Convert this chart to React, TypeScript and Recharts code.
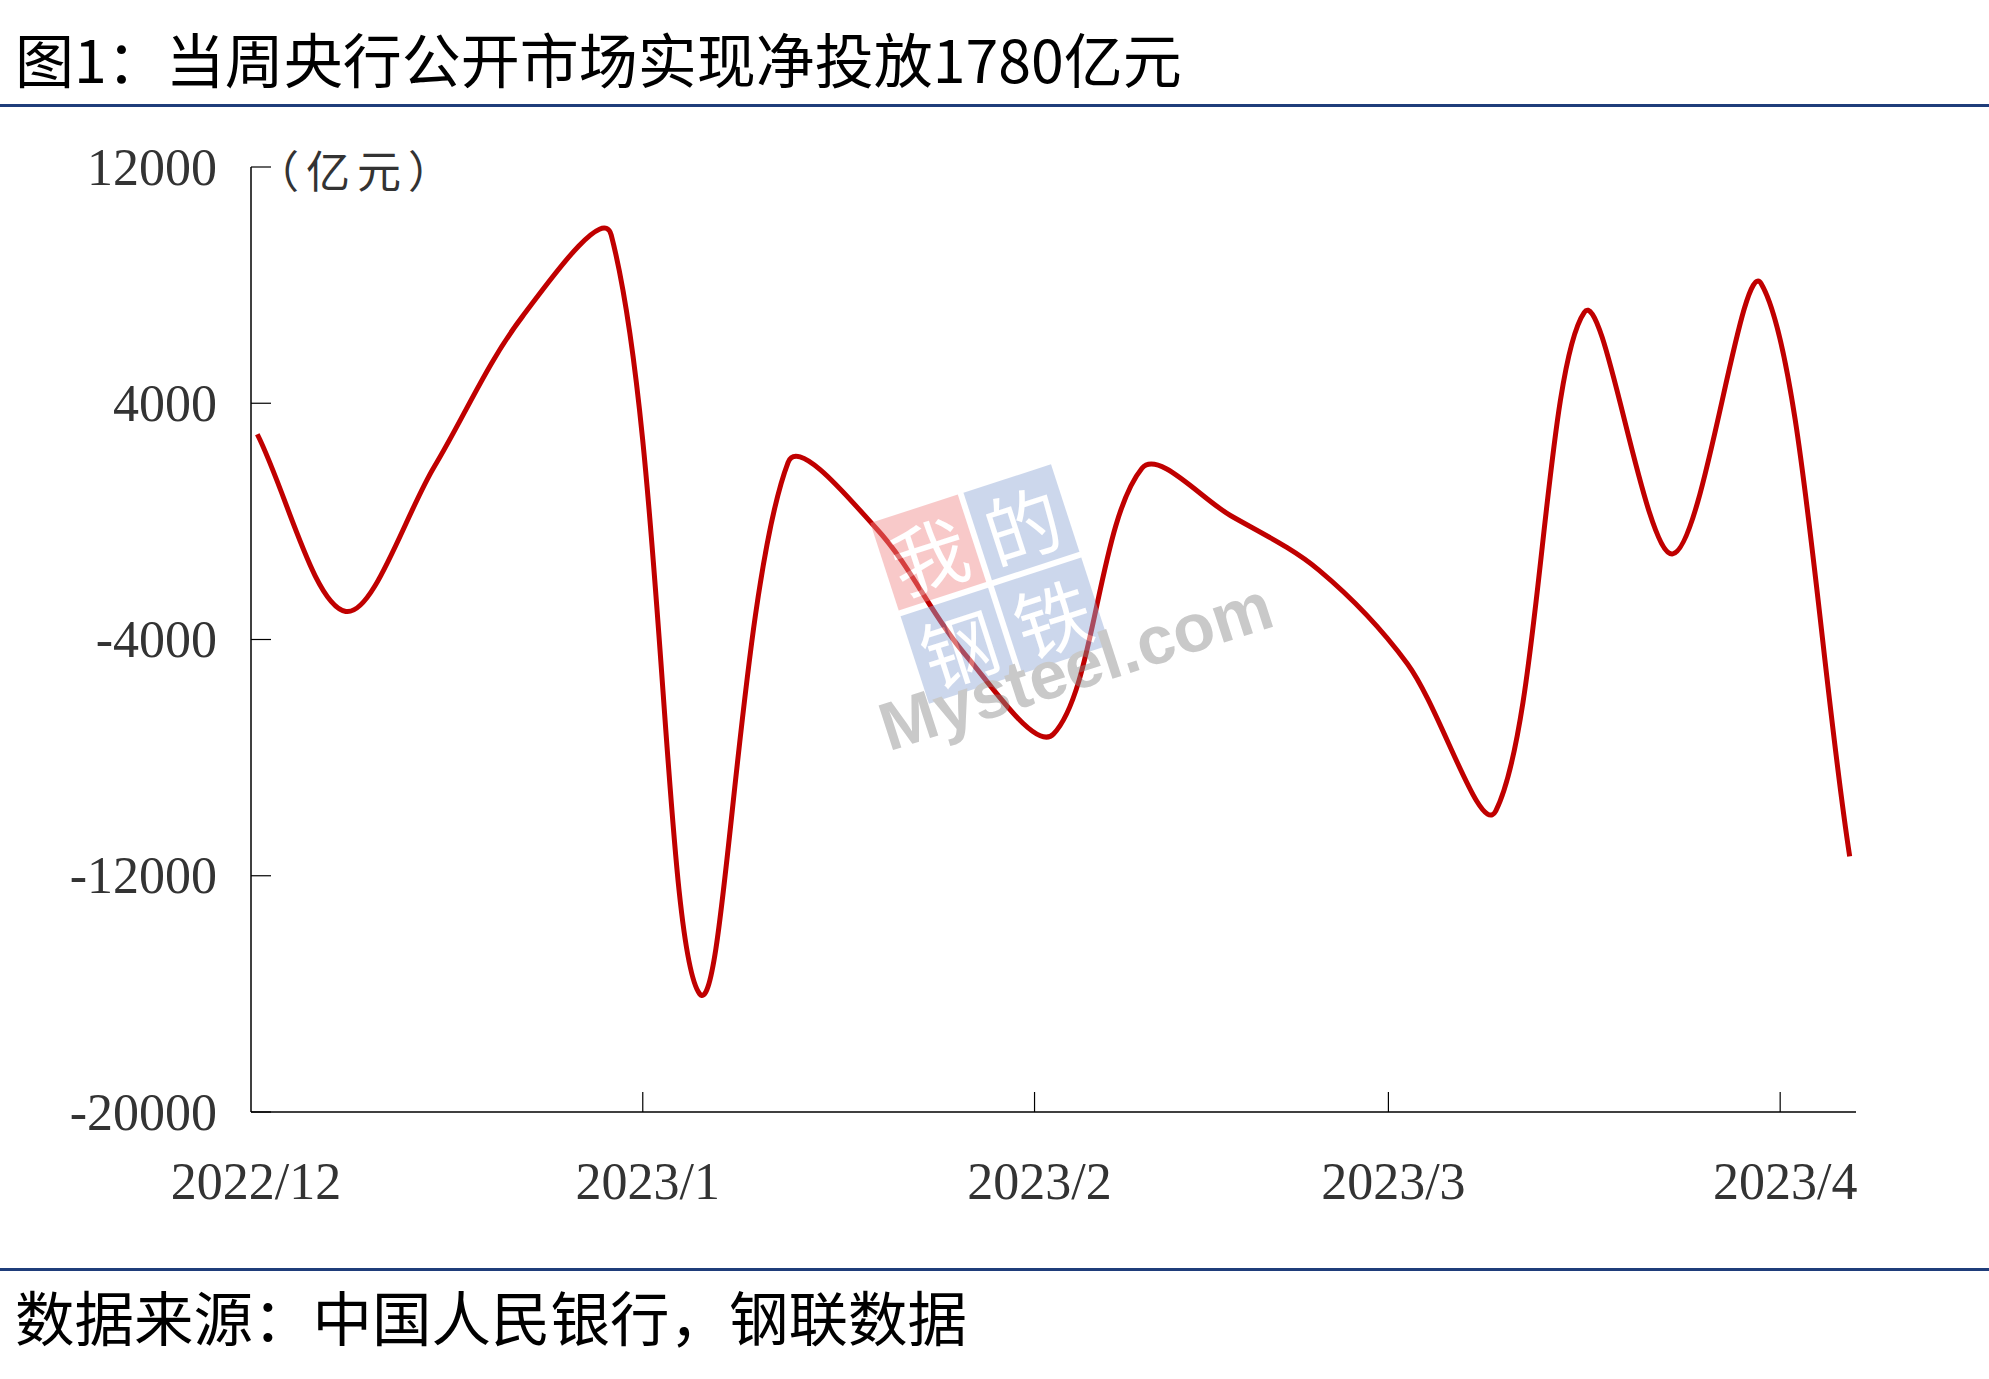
import React from 'react';
import { LineChart, Line, XAxis, YAxis } from 'recharts';

// weekly net injection (亿元), one value per Thursday from 2022/12/1 to 2023/4/6
const weekIndex = [0, 1, 2, 3, 4, 5, 6, 7, 8, 9, 10, 11, 12, 13, 14, 15, 16, 17, 18];
const netInjection = [
  2950, -3050, 1850, 6950, 9700, -16000, 2000, -250, -4500, -7200,
  1800, 200, -1650, -4820, -9800, 7080, -1100, 8050, -11340,
];

// days since 2022/12/1 for each month start, and their labels
const monthStartDays = [0, 31, 62, 90, 121];
const monthLabels = ['2022/12', '2023/1', '2023/2', '2023/3', '2023/4'];
const yTicks = [-20000, -12000, -4000, 4000, 12000];

const chartData = weekIndex.map((w, i) => ({
  day: w * 7 + 0.5,
  value: netInjection[i],
}));

const W = 1989;
const H = 1379;
const RED = '#C00000';
const NAVY = '#1F3D7A';
const SERIF = '"Liberation Serif", "Times New Roman", serif';
const CJK = '"Noto Sans CJK SC", "Noto Sans", sans-serif';

// smoothing like office charts: bezier with chord-length weighted tangents
const smoothCurve = (context: any) => {
  let pts: number[][] = [];
  const F = 1 / 3;
  return {
    areaStart() {},
    areaEnd() {},
    lineStart() {
      pts = [];
    },
    point(x: number, y: number) {
      pts.push([+x, +y]);
    },
    lineEnd() {
      const n = pts.length;
      if (!n) return;
      context.moveTo(pts[0][0], pts[0][1]);
      if (n === 1) return;
      const dist = (a: number[], b: number[]) => Math.hypot(b[0] - a[0], b[1] - a[1]);
      const ctrl = (i: number) => {
        const p = pts[i];
        const prev = pts[Math.max(i - 1, 0)];
        const next = pts[Math.min(i + 1, n - 1)];
        const d1 = dist(prev, p);
        const d2 = dist(p, next);
        const s = d1 + d2 || 1;
        const tx = next[0] - prev[0];
        const ty = next[1] - prev[1];
        return {
          left: [p[0] - (tx * F * d1) / s, p[1] - (ty * F * d1) / s],
          right: [p[0] + (tx * F * d2) / s, p[1] + (ty * F * d2) / s],
        };
      };
      for (let i = 0; i < n - 1; i++) {
        const c1 = ctrl(i).right;
        const c2 = ctrl(i + 1).left;
        context.bezierCurveTo(c1[0], c1[1], c2[0], c2[1], pts[i + 1][0], pts[i + 1][1]);
      }
    },
  };
};

const YTick = (props: any) => {
  const { x, y, payload } = props;
  return (
    <g>
      <line x1={x} x2={x + 20} y1={y} y2={y} stroke="#000" strokeWidth={1.2} />
      <text
        x={x - 34}
        y={y}
        textAnchor="end"
        dominantBaseline="central"
        fontFamily={SERIF}
        fontSize={52}
        fill="#333"
      >
        {payload.value}
      </text>
    </g>
  );
};

const XTick = (props: any) => {
  const { x, y, payload, index } = props;
  return (
    <g>
      {payload.value !== 0 && (
        <line x1={x} x2={x} y1={y} y2={y - 20} stroke="#000" strokeWidth={1.2} />
      )}
      <text
        x={x + 5}
        y={y + 69}
        textAnchor="middle"
        dominantBaseline="central"
        fontFamily={SERIF}
        fontSize={52}
        fill="#333"
      >
        {monthLabels[index] ?? ''}
      </text>
    </g>
  );
};

const Watermark = () => (
  <g opacity={0.45} transform="translate(990 584) rotate(-18)">
    <rect x={-95} y={-95} width={92} height={92} fill="#f08a8a" />
    <rect x={3} y={-95} width={92} height={92} fill="#8fa8d6" />
    <rect x={-95} y={3} width={92} height={92} fill="#8fa8d6" />
    <rect x={3} y={3} width={92} height={92} fill="#8fa8d6" />
    <g fontFamily={CJK} fontSize={76} fill="#fff" textAnchor="middle" dominantBaseline="central">
      <text x={-49} y={-49}>我</text>
      <text x={49} y={-49}>的</text>
      <text x={-49} y={49}>钢</text>
      <text x={49} y={49}>铁</text>
    </g>
    <text
      x={-148}
      y={128}
      fontFamily='"Liberation Sans", Arial, sans-serif'
      fontSize={68}
      fontWeight={700}
      fill="#888"
    >
      Mysteel.com
    </text>
  </g>
);

export default function App() {
  return (
    <div style={{ position: 'absolute', left: 0, top: 0, width: W, height: H, background: '#fff' }}>
      <svg width={W} height={H} style={{ position: 'absolute', left: 0, top: 0 }}>
        <text x={15} y={57} dominantBaseline="central" fontFamily={CJK} fontSize={59} fill="#000">
          图1：当周央行公开市场实现净投放1780亿元
        </text>
        <rect x={0} y={104} width={W} height={3} fill={NAVY} />
        <rect x={0} y={1268} width={W} height={3} fill={NAVY} />
        <text x={15} y={1315} dominantBaseline="central" fontFamily={CJK} fontSize={59.5} fill="#000">
          数据来源：中国人民银行，钢联数据
        </text>
      </svg>
      <div style={{ position: 'absolute', left: 0, top: 0 }}>
        <LineChart
          width={W}
          height={H}
          data={chartData}
          margin={{ top: 167, right: 133, bottom: 167, left: 0 }}
        >
          <XAxis
            dataKey="day"
            type="number"
            domain={[0, 127]}
            ticks={monthStartDays}
            interval={0}
            height={100}
            tickSize={0}
            tickMargin={0}
            tickLine={false}
            axisLine={{ stroke: '#000', strokeWidth: 1.5 }}
            tick={<XTick />}
          />
          <YAxis
            type="number"
            domain={[-20000, 12000]}
            ticks={yTicks}
            interval={0}
            width={251}
            tickSize={0}
            tickMargin={0}
            tickLine={false}
            axisLine={{ stroke: '#000', strokeWidth: 1.5 }}
            tick={<YTick />}
          />
          <Line
            dataKey="value"
            type={smoothCurve as any}
            stroke={RED}
            strokeWidth={5}
            dot={false}
            activeDot={false}
            isAnimationActive={false}
          />
        </LineChart>
      </div>
      <svg width={W} height={H} style={{ position: 'absolute', left: 0, top: 0, pointerEvents: 'none' }}>
        <text
          x={255}
          y={169}
          dominantBaseline="central"
          fontFamily={CJK}
          fontSize={44}
          letterSpacing={7}
          fill="#333"
        >
          （亿元）
        </text>
        <Watermark />
      </svg>
    </div>
  );
}
